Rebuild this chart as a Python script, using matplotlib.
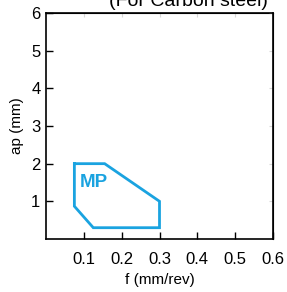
import matplotlib
matplotlib.use('Agg')
import matplotlib.pyplot as plt

# Chip breaker application range
feed = [0.075, 0.155, 0.30, 0.30, 0.125, 0.075, 0.075]
depth = [2.0, 2.0, 1.0, 0.3, 0.3, 0.87, 2.0]
x_ticks = [0.1, 0.2, 0.3, 0.4, 0.5, 0.6]
y_ticks = [1, 2, 3, 4, 5, 6]

plt.rcParams['font.family'] = ['Liberation Sans', 'DejaVu Sans']
blue = '#1aa3e0'

fig = plt.figure(figsize=(2.87, 2.92), dpi=100)
ax = fig.add_axes([46/287, 53/292, 227/287, 226/292])

ax.plot(feed, depth, color=blue, lw=2, solid_joinstyle='miter')
ax.text(0.088, 1.5, 'MP', color=blue, fontsize=13.5, fontweight='bold', va='center')

ax.set_xlim(0, 0.6)
ax.set_ylim(0, 6)
ax.set_xticks(x_ticks)
ax.set_yticks(y_ticks)
ax.set_xticklabels(['0.1', '0.2', '0.3', '0.4', '0.5', '0.6'])
ax.tick_params(direction='in', length=5, labelsize=12, width=1)
ax.tick_params(axis='x', pad=9)
ax.tick_params(axis='y', pad=4)
for s in ax.spines.values():
    s.set_linewidth(1.2)

# faint ticks on top and right
top = ax.secondary_xaxis('top')
top.set_xticks(x_ticks)
top.tick_params(direction='in', length=3, color='#d8d8d8', labeltop=False)
right = ax.secondary_yaxis('right')
right.set_yticks(y_ticks)
right.tick_params(direction='in', length=3, color='#d8d8d8', labelright=False)

ax.set_xlabel('f (mm/rev)', fontsize=11, labelpad=5)
ax.set_ylabel('ap (mm)', fontsize=11, labelpad=5)
fig.text(268/287, (292 - 6)/292, '(For Carbon steel)', ha='right', va='baseline', fontsize=14)

fig.savefig('out.png', dpi=100)
